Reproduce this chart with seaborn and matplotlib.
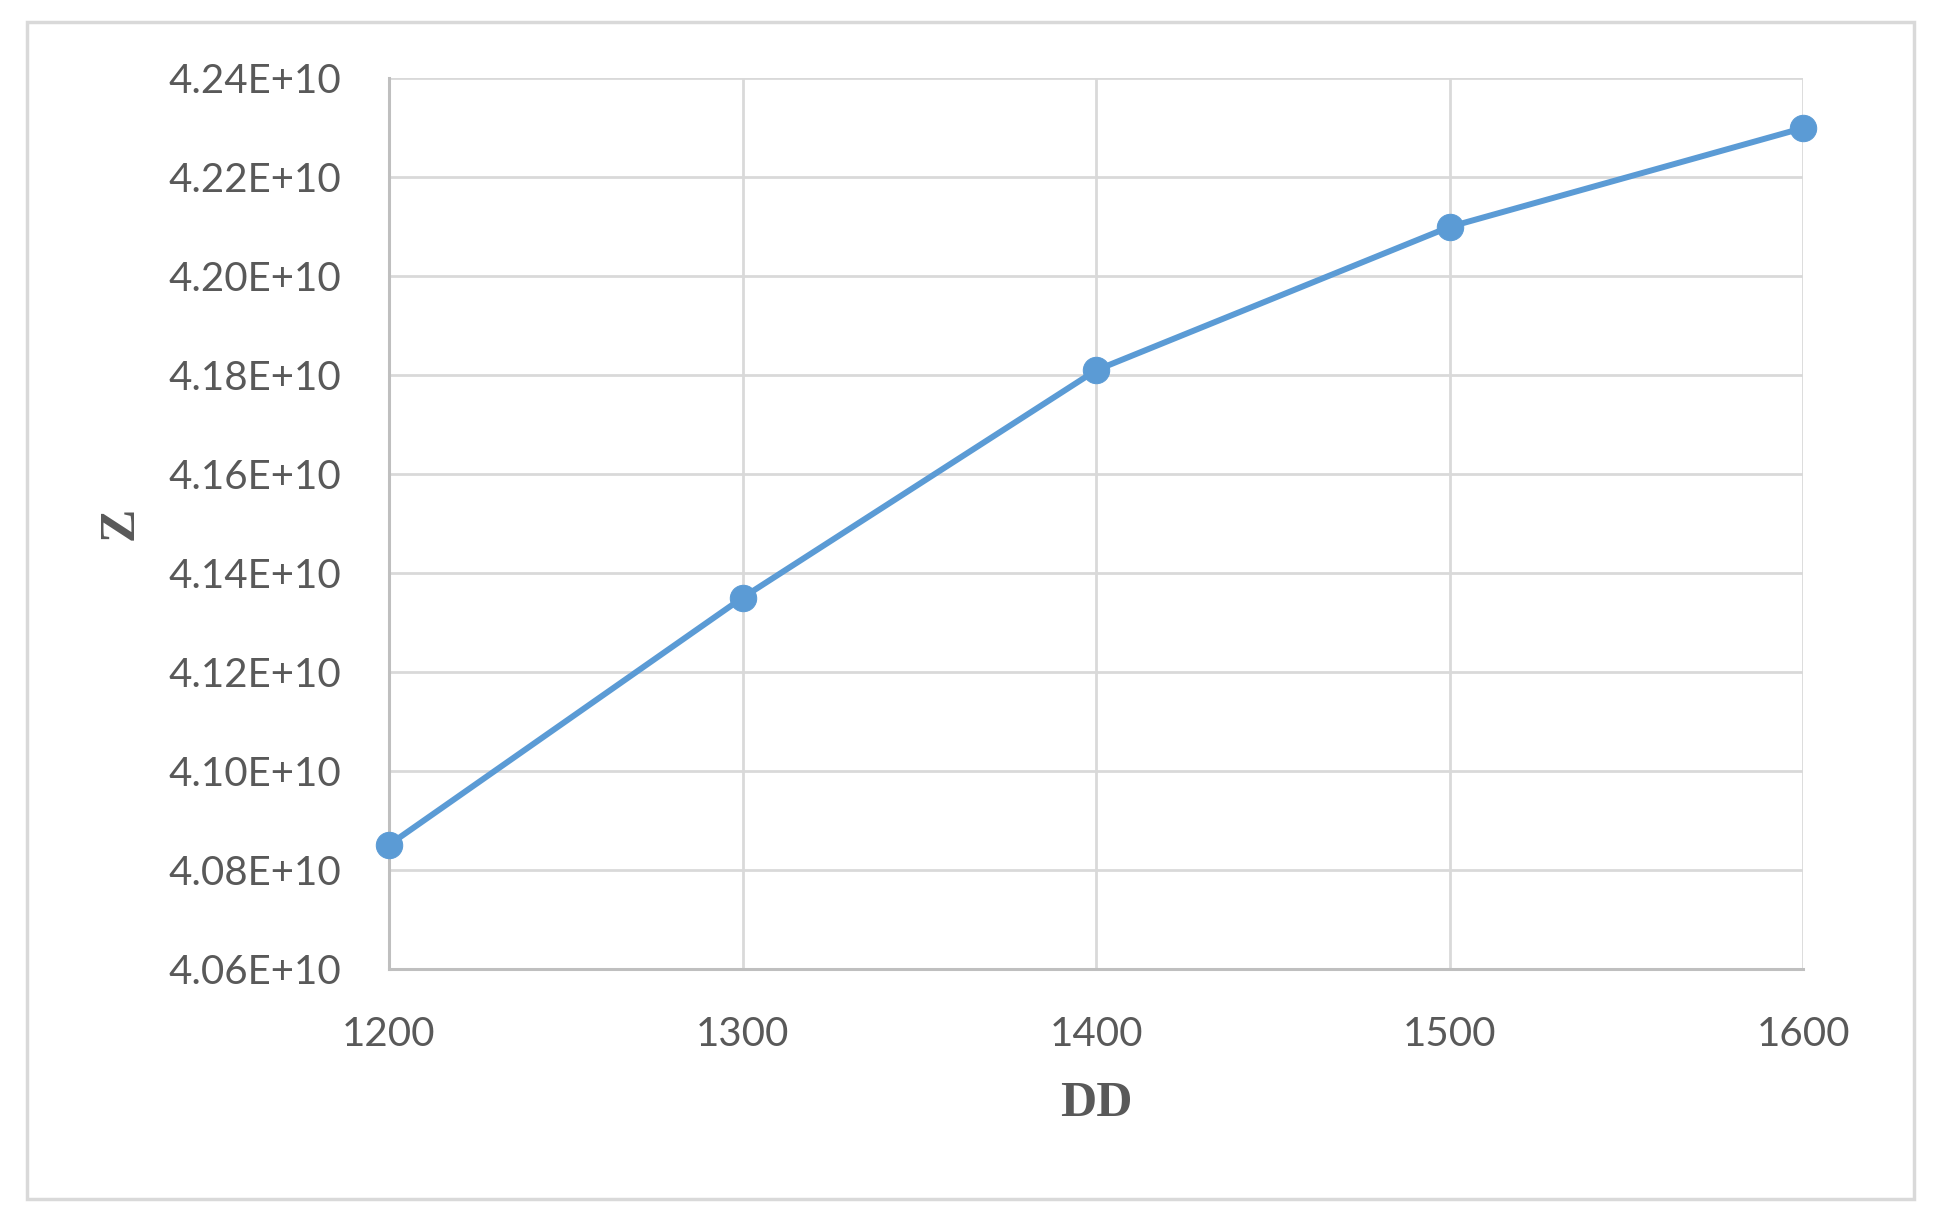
import matplotlib
matplotlib.use('Agg')
import matplotlib.pyplot as plt
import seaborn as sns
import pandas as pd
from matplotlib.patches import Rectangle
from matplotlib.ticker import FuncFormatter

# values
dd = [1200, 1300, 1400, 1500, 1600]
z = [4.085e10, 4.135e10, 4.181e10, 4.210e10, 4.230e10]
y_ticks = [4.06e10, 4.08e10, 4.10e10, 4.12e10, 4.14e10, 4.16e10, 4.18e10, 4.20e10, 4.22e10, 4.24e10]
x_ticks = [1200, 1300, 1400, 1500, 1600]

sns.set_theme(style="white")
plt.rcParams['font.family'] = ['Lato', 'DejaVu Sans']

df = pd.DataFrame({"DD": dd, "Z": z})

fig = plt.figure(figsize=(19.35, 12.26), dpi=100)
ax = fig.add_axes([0.201, 0.210, 0.731, 0.726])

sns.lineplot(data=df, x="DD", y="Z", ax=ax, color='#5B9BD5', linewidth=4.3,
             marker='o', markersize=19, markeredgecolor='#5B9BD5', zorder=3,
             clip_on=False)

ax.set_xlim(1200, 1600)
ax.set_ylim(4.06e10, 4.24e10)
ax.set_xticks(x_ticks)
ax.set_yticks(y_ticks)
ax.yaxis.set_major_formatter(FuncFormatter(lambda v, p: f"{v / 1e10:.2f}E+10"))

ax.grid(True, color='#D9D9D9', linewidth=2)
for s in ['top', 'right']:
    ax.spines[s].set_visible(False)
for s in ['left', 'bottom']:
    ax.spines[s].set_color('#BFBFBF')
    ax.spines[s].set_linewidth(2.2)

ax.tick_params(axis='both', colors='#595959', labelsize=29, length=0)
ax.tick_params(axis='x', pad=34)
ax.tick_params(axis='y', pad=34)

ax.set_xlabel('DD', family='Liberation Serif', fontweight='bold', fontsize=36,
              color='#595959', labelpad=20)
ax.set_ylabel('Z', family='Liberation Serif', fontweight='bold', fontsize=36,
              color='#595959', labelpad=18)

# outer chart border
fig.patches.append(Rectangle((0.014, 0.022), 0.975, 0.960, transform=fig.transFigure,
                             fill=False, edgecolor='#D9D9D9', linewidth=2.5))

fig.savefig('out.png', dpi=100, facecolor='white')
